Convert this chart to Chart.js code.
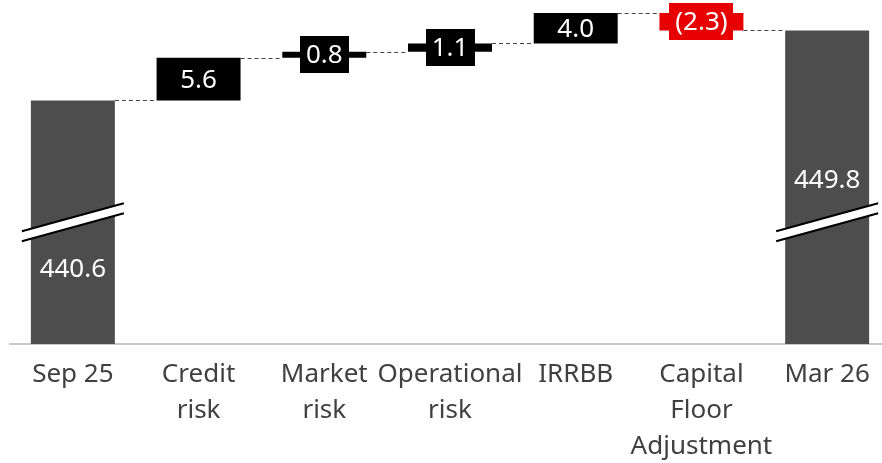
<!DOCTYPE html>
<html>
<head>
<meta charset="utf-8">
<script src="https://cdn.jsdelivr.net/npm/chart.js@4/dist/chart.umd.min.js"></script>
<style>
  html, body { margin: 0; padding: 0; background: #fff; overflow: hidden; width: 882px; height: 463px; }
  #wrap { position: relative; width: 882px; height: 463px; overflow: hidden; }
  canvas { display: block; }
</style>
</head>
<body>
<div id="wrap"><canvas id="c" width="900" height="463"></canvas></div>
<script>
// ---- data ----
const categories = [['Sep 25'], ['Credit', 'risk'], ['Market', 'risk'], ['Operational', 'risk'], ['IRRBB'], ['Capital', 'Floor', 'Adjustment'], ['Mar 26']];
const values = [440.6, 5.6, 0.8, 1.1, 4.0, -2.3, 449.8];
const kinds = ['total', 'delta', 'delta', 'delta', 'delta', 'delta', 'total'];
const valueLabels = ['440.6', '5.6', '0.8', '1.1', '4.0', '(2.3)', '449.8'];
const axisMin = 408.6;
const axisMax = 453.8;

// ---- styles ----
const FONT = '"Noto Sans", "Open Sans", sans-serif';
const FONT_SIZE = 26;
const COL_TOTAL = '#4d4d4d';
const COL_POS = '#000000';
const COL_NEG = '#e60000';

// build floating ranges from the values
const ranges = [];
let running = 0;
values.forEach((v, i) => {
  if (kinds[i] === 'total') { ranges.push([axisMin, v]); running = v; }
  else { ranges.push([running, running + v]); running += v; }
});
const levels = ranges.map(r => r[1]);
const colors = values.map((v, i) => kinds[i] === 'total' ? COL_TOTAL : (v < 0 ? COL_NEG : COL_POS));

const waterfallPlugin = {
  id: 'waterfall',
  beforeDatasetsDraw(chart) {
    const ctx = chart.ctx;
    const meta = chart.getDatasetMeta(0);
    const y = chart.scales.y;
    ctx.save();
    ctx.strokeStyle = '#444';
    ctx.lineWidth = 1.2;
    ctx.setLineDash([4, 3]);
    for (let i = 0; i < meta.data.length - 1; i++) {
      const a = meta.data[i], b = meta.data[i + 1];
      const py = Math.round(y.getPixelForValue(levels[i])) + 0.5;
      ctx.beginPath();
      ctx.moveTo(a.x + a.width / 2, py);
      ctx.lineTo(b.x - b.width / 2, py);
      ctx.stroke();
    }
    ctx.restore();
  },
  afterDatasetsDraw(chart) {
    const ctx = chart.ctx;
    const meta = chart.getDatasetMeta(0);
    const y = chart.scales.y;
    const breakY = y.getPixelForValue((axisMin + values[0]) / 2);
    ctx.save();
    ctx.font = FONT_SIZE + 'px ' + FONT;
    ctx.textAlign = 'center';
    ctx.textBaseline = 'middle';
    meta.data.forEach((el, i) => {
      const top = Math.min(el.y, el.base), bot = Math.max(el.y, el.base);
      const h = bot - top;
      if (kinds[i] === 'total') {
        // axis break marks
        const half = 51, rise = 14, gap = 5;
        ctx.fillStyle = '#fff';
        ctx.beginPath();
        ctx.moveTo(el.x - half, breakY + rise - gap);
        ctx.lineTo(el.x + half, breakY - rise - gap);
        ctx.lineTo(el.x + half, breakY - rise + gap);
        ctx.lineTo(el.x - half, breakY + rise + gap);
        ctx.closePath();
        ctx.fill();
        ctx.strokeStyle = '#000';
        ctx.lineWidth = 2;
        ctx.beginPath();
        ctx.moveTo(el.x - half, breakY + rise - gap);
        ctx.lineTo(el.x + half, breakY - rise - gap);
        ctx.moveTo(el.x - half, breakY + rise + gap);
        ctx.lineTo(el.x + half, breakY - rise + gap);
        ctx.stroke();
        ctx.fillStyle = '#fff';
        const ly = i === 0 ? breakY + 47 : breakY - 42;
        ctx.fillText(valueLabels[i], el.x, ly);
      } else {
        const cy = (top + bot) / 2;
        if (h < 24) {
          const tw = ctx.measureText(valueLabels[i]).width;
          const bw = tw + 12, bh = 37;
          ctx.fillStyle = colors[i];
          ctx.fillRect(Math.round(el.x - bw / 2), Math.round(cy - bh / 2), Math.round(bw), bh);
        }
        ctx.fillStyle = '#fff';
        ctx.fillText(valueLabels[i], el.x, cy + 1);
      }
    });
    ctx.restore();
  }
};

new Chart(document.getElementById('c'), {
  type: 'bar',
  data: {
    labels: categories,
    datasets: [{
      data: ranges,
      backgroundColor: colors,
      borderWidth: 0,
      barPercentage: 0.668,
      categoryPercentage: 1
    }]
  },
  options: {
    responsive: false,
    animation: false,
    layout: { padding: { left: 10, right: 10, top: 0, bottom: 0 } },
    plugins: { legend: { display: false }, tooltip: { enabled: false } },
    scales: {
      x: {
        grid: { display: false, drawTicks: false },
        border: { display: true, color: '#c8c8c8', width: 2 },
        ticks: {
          color: '#404040',
          padding: 13,
          maxRotation: 0,
          autoSkip: false,
          font: { family: FONT, size: FONT_SIZE, lineHeight: 36 / FONT_SIZE }
        },
        afterFit(scale) { scale.height = 119; }
      },
      y: {
        display: false,
        min: axisMin,
        max: axisMax
      }
    }
  },
  plugins: [waterfallPlugin]
});
</script>
</body>
</html>
